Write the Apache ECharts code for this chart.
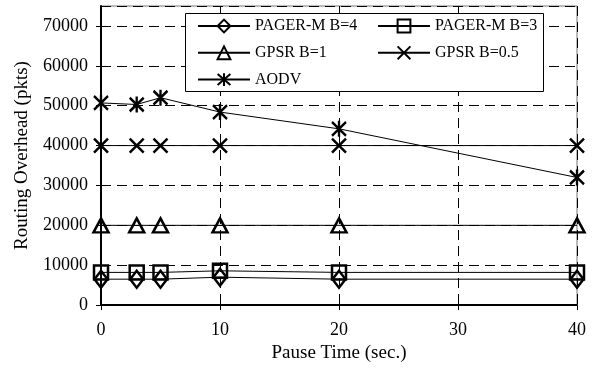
<!DOCTYPE html>
<html><head><meta charset="utf-8">
<script src="https://cdn.jsdelivr.net/npm/echarts@6/dist/echarts.min.js"></script>
<style>html,body{margin:0;padding:0;background:#fff}#c{width:593px;height:368px}</style>
</head><body><div id="c"></div>
<script>
const pauseTimes = [0, 3, 5, 10, 20, 40];
const pagerM4 = [6500, 6500, 6500, 7000, 6500, 6500];
const pagerM3 = [8200, 8200, 8200, 8600, 8200, 8200];
const gpsr1 = [20000, 20000, 20000, 20000, 20000, 20000];
const gpsr05 = [40000, 40000, 40000, 40000, 40000, 40000];
const aodv = [50700, 50300, 52000, 48400, 44200, 32000];
const names = ['PAGER-M B=4', 'PAGER-M B=3', 'GPSR B=1', 'GPSR B=0.5', 'AODV'];

const FONT = 'Liberation Serif';
const sym = {
  diamond: 'path://M6,0L12,8L6,16L0,8Z',
  square: 'path://M0,0L12,0L12,12L0,12Z',
  triangle: 'path://M6,0L12,11L0,11Z',
  cross: 'path://M0,0L12,12M12,0L0,12',
  star: 'path://M0,1L12,13M12,1L0,13M6,0L6,14'
};
function pairs(vals) { return pauseTimes.map((x, i) => [x, vals[i]]); }
function mk(name, vals, symbol, size, z) {
  return {
    name, type: 'line', data: pairs(vals), symbol, symbolSize: size,
    lineStyle: { color: '#000', width: 1 },
    itemStyle: { color: 'rgba(0,0,0,0)', borderColor: '#000', borderWidth: 2.5 },
    emphasis: { disabled: true }, z: z
  };
}
const chart = echarts.init(document.getElementById('c'));
const legendBase = {
  orient: 'vertical', itemWidth: 52, itemHeight: 16, itemGap: 10.8,
  textStyle: { fontFamily: FONT, fontSize: 16, color: '#000' },
  z: 20, selectedMode: false, padding: 0
};
chart.setOption({
  animation: false,
  backgroundColor: '#fff',
  grid: { left: 101, right: 16, top: 6, bottom: 60, show: true, borderColor: '#777', borderWidth: 1 },
  graphic: [{ type: 'rect', left: 185, top: 13, z: 15, shape: { width: 358, height: 78 },
    style: { fill: '#fff', stroke: '#000', lineWidth: 1 } }],
  legend: [
    Object.assign({}, legendBase, { left: 197, top: 18, data: [names[0], names[2], names[4]] }),
    Object.assign({}, legendBase, { left: 377, top: 18, data: [names[1], names[3]] })
  ],
  xAxis: {
    type: 'value', min: 0, max: 40, interval: 10,
    name: 'Pause Time (sec.)', nameLocation: 'middle', nameGap: 37,
    nameTextStyle: { fontFamily: FONT, fontSize: 19, color: '#000' },
    axisLine: { lineStyle: { color: '#000', width: 2 } },
    axisTick: { show: true, length: 5, lineStyle: { color: '#000' } },
    axisLabel: { fontFamily: FONT, fontSize: 18, color: '#000', margin: 16 },
    splitLine: { show: true, lineStyle: { color: '#000', type: [10, 6], width: 1 } }
  },
  yAxis: {
    type: 'value', min: 0, max: 75000, interval: 10000,
    name: 'Routing Overhead (pkts)', nameLocation: 'middle', nameGap: 69,
    nameTextStyle: { fontFamily: FONT, fontSize: 19, color: '#000' },
    axisLine: { show: true, lineStyle: { color: '#000', width: 2 } },
    axisTick: { show: true, length: 5, lineStyle: { color: '#000' } },
    axisLabel: { fontFamily: FONT, fontSize: 18, color: '#000', margin: 13, showMaxLabel: false,
      formatter: v => (v % 10000 === 0 ? String(v) : '') },
    splitLine: { show: true, lineStyle: { color: '#000', type: [10, 6], width: 1 } }
  },
  series: [
    mk(names[0], pagerM4, sym.diamond, [13, 17], 5),
    mk(names[1], pagerM3, sym.square, 14, 5),
    mk(names[2], gpsr1, sym.triangle, [15, 14], 5),
    mk(names[3], gpsr05, sym.cross, 14, 5),
    mk(names[4], aodv, sym.star, [14, 16], 5)
  ]
});
</script></body></html>
